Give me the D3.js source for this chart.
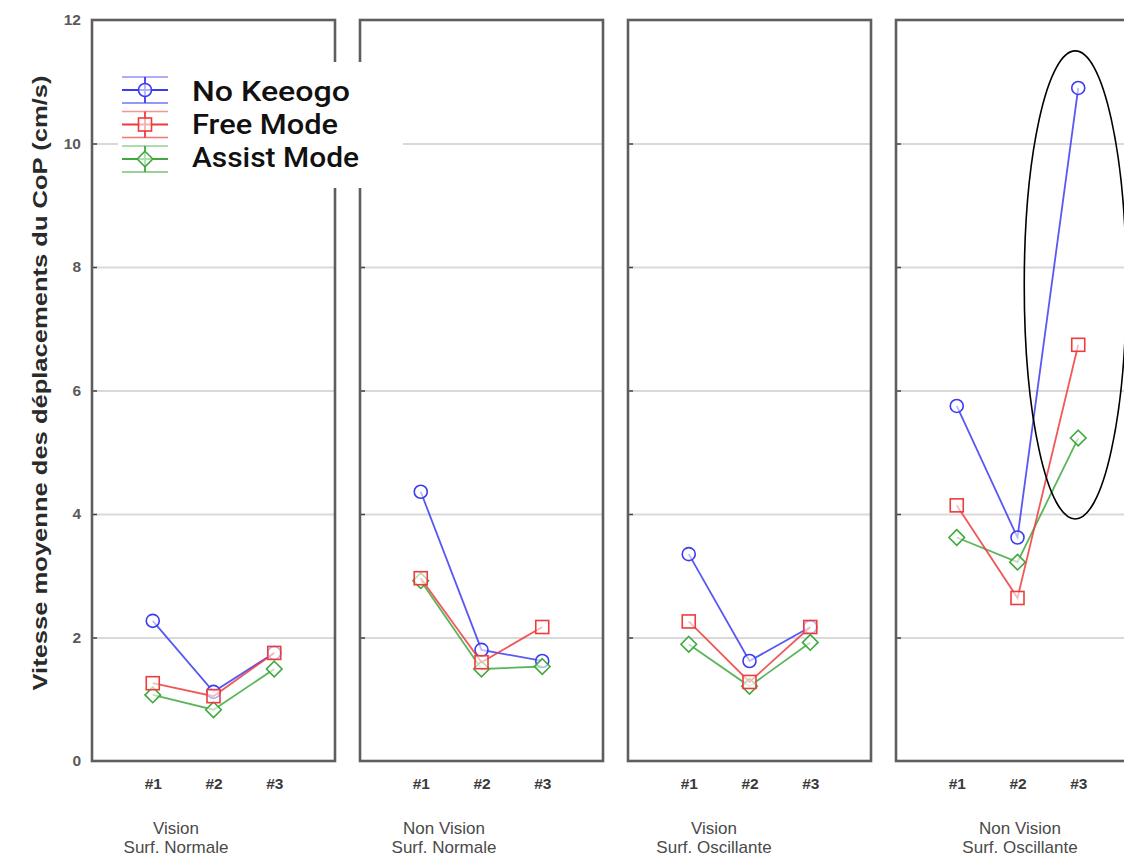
<!DOCTYPE html>
<html>
<head>
<meta charset="utf-8">
<script src="https://cdn.jsdelivr.net/npm/d3@7"></script>
<style>
  html, body { margin: 0; padding: 0; background: #fff; }
  svg { display: block; }
</style>
</head>
<body>
<svg id="chart" width="1124" height="861"></svg>
<script>
// Conditions (one panel each) and trial labels
const conditions = ["Vision|Surf. Normale", "Non Vision|Surf. Normale", "Vision|Surf. Oscillante", "Non Vision|Surf. Oscillante"];
const trials = ["#1", "#2", "#3"];
const yTicks = [0, 2, 4, 6, 8, 10, 12];

// Mean CoP speed (cm/s), one array per condition: [#1, #2, #3]
const noKeeogo   = [[2.27, 1.12, 1.75], [4.36, 1.80, 1.62], [3.35, 1.62, 2.17], [5.75, 3.62, 10.90]];
const freeMode   = [[1.26, 1.05, 1.75], [2.96, 1.60, 2.17], [2.26, 1.28, 2.17], [4.14, 2.64, 6.74]];
const assistMode = [[1.07, 0.83, 1.49], [2.92, 1.49, 1.53], [1.89, 1.21, 1.92], [3.62, 3.22, 5.23]];

const seriesNames  = ["No Keeogo", "Free Mode", "Assist Mode"];
const seriesColors = ["#3b3bf0", "#ee3b3b", "#3fa83f"];
const seriesShapes = ["circle", "square", "diamond"];
const seriesData   = [noKeeogo, freeMode, assistMode];

// horizontal anchor of each condition caption, measured from the panel's left edge
const captionOffset = [84, 84, 86, 124];
// rendered width of each legend entry
const legendWidths = [158, 146, 167];

const svg = d3.select("#chart");

// Scales
const y = d3.scaleLinear().domain([0, 12]).range([761, 20]);
const panel = d3.scaleBand().domain(conditions).range([92, 1139]).paddingInner(25 / 268).paddingOuter(0);
const bw = panel.bandwidth();
const xIn = d3.scalePoint().domain(trials).range([0, bw]).padding(1);

const labelFont = "Liberation Sans, Arial, sans-serif";

// Panels: grid, small ticks, frames
conditions.forEach((c, ci) => {
  const g = svg.append("g").attr("transform", `translate(${panel(c)},0)`);

  // horizontal grid lines
  g.append("g")
    .call(d3.axisLeft(y).tickValues(yTicks.filter(v => v > 0 && v < 12)).tickSize(-bw).tickFormat(""))
    .call(a => a.select(".domain").remove())
    .call(a => a.selectAll("line").attr("stroke", "#d9d9d9").attr("stroke-width", 2));

  // short dark ticks inside the left frame
  g.append("g")
    .call(d3.axisRight(y).tickValues(yTicks.filter(v => v > 0 && v < 12)).tickSize(5).tickFormat(""))
    .call(a => a.select(".domain").remove())
    .call(a => a.selectAll("line").attr("stroke", "#444").attr("stroke-width", 1.5));

  // frame
  g.append("rect")
    .attr("x", 0).attr("y", y(12)).attr("width", bw).attr("height", y(0) - y(12))
    .attr("fill", "none").attr("stroke", "#5e5e5e").attr("stroke-width", 2.6);

  // trial labels
  g.append("g")
    .attr("transform", `translate(0,${y(0)})`)
    .call(d3.axisBottom(xIn).tickSize(0).tickPadding(17))
    .call(a => a.select(".domain").remove())
    .call(a => a.selectAll("text")
      .attr("font-family", labelFont)
      .attr("font-size", 15.5).attr("font-weight", "bold").attr("fill", "#3a3a3a"));

  // condition captions
  const lines = c.split("|");
  lines.forEach((t, li) => {
    g.append("text")
      .attr("x", captionOffset[ci]).attr("y", 834 + li * 19)
      .attr("text-anchor", "middle")
      .attr("font-family", labelFont)
      .attr("font-size", 17).attr("fill", "#4a4a4a")
      .text(t);
  });
});

// Y axis labels on the left
svg.append("g")
  .attr("transform", `translate(81,0)`)
  .call(d3.axisLeft(y).tickValues(yTicks).tickSize(0).tickPadding(0))
  .call(a => a.select(".domain").remove())
  .call(a => a.selectAll("text")
    .attr("font-family", labelFont)
    .attr("font-size", 15.5).attr("font-weight", "bold").attr("fill", "#5a5a5a"));

svg.append("text")
  .attr("transform", `translate(47,383) rotate(-90)`)
  .attr("text-anchor", "middle")
  .attr("font-family", labelFont)
  .attr("font-size", 20.5).attr("font-weight", "bold").attr("fill", "#2a2a2a")
  .attr("textLength", 615).attr("lengthAdjust", "spacingAndGlyphs")
  .text("Vitesse moyenne des déplacements du CoP (cm/s)");

// Marker drawing helper
function marker(sel, shape, color, size) {
  if (shape === "circle") {
    sel.append("circle").attr("r", size).attr("fill", "rgba(255,255,255,0.6)")
      .attr("stroke", color).attr("stroke-width", 1.6);
  } else if (shape === "square") {
    sel.append("rect").attr("x", -size).attr("y", -size).attr("width", size * 2).attr("height", size * 2)
      .attr("fill", "rgba(255,255,255,0.6)").attr("stroke", color).attr("stroke-width", 1.6);
  } else {
    const s = size * 1.2;
    sel.append("path").attr("d", `M0,${-s}L${s},0L0,${s}L${-s},0Z`)
      .attr("fill", "rgba(255,255,255,0.6)").attr("stroke", color).attr("stroke-width", 1.6);
  }
}

// Series lines and markers
const line = d3.line().x(d => d[0]).y(d => d[1]);
[0, 2, 1].forEach(si => {
  conditions.forEach((c, ci) => {
    const vals = seriesData[si][ci];
    const pts = vals.map((v, ti) => [panel(c) + xIn(trials[ti]), y(v)]);
    svg.append("path").attr("d", line(pts))
      .attr("fill", "none").attr("stroke", seriesColors[si]).attr("stroke-width", 1.8).attr("opacity", 0.85);
    pts.forEach(p => {
      const m = svg.append("g").attr("transform", `translate(${p[0]},${p[1]})`);
      marker(m, seriesShapes[si], seriesColors[si], 6.5);
    });
  });
});

// Highlight ellipse around trial #3 in the last condition
const lastC = conditions[3];
svg.append("ellipse")
  .attr("cx", panel(lastC) + xIn("#3") - 3)
  .attr("cy", (y(11.5) + y(3.92)) / 2)
  .attr("rx", 51)
  .attr("ry", (y(3.92) - y(11.5)) / 2)
  .attr("fill", "none").attr("stroke", "#000").attr("stroke-width", 1.6);

// Legend
const lg = svg.append("g");
lg.append("rect").attr("x", 118).attr("y", 62).attr("width", 285).attr("height", 126).attr("fill", "#fff");
seriesNames.forEach((name, i) => {
  const cy = 90 + i * 34.5;
  const row = lg.append("g").attr("transform", `translate(145,${cy})`);
  const col = seriesColors[i];
  row.append("line").attr("x1", -23).attr("x2", 23).attr("y1", -13).attr("y2", -13)
    .attr("stroke", col).attr("stroke-width", 1.6).attr("opacity", 0.55);
  row.append("line").attr("x1", -23).attr("x2", 23).attr("y1", 13).attr("y2", 13)
    .attr("stroke", col).attr("stroke-width", 1.6).attr("opacity", 0.7);
  row.append("line").attr("x1", -23).attr("x2", 23).attr("y1", 0).attr("y2", 0)
    .attr("stroke", col).attr("stroke-width", 1.8);
  row.append("line").attr("x1", 0).attr("x2", 0).attr("y1", -13).attr("y2", 13)
    .attr("stroke", col).attr("stroke-width", 1.8);
  marker(row, seriesShapes[i], col, 6.5);
  lg.append("text")
    .attr("x", 192).attr("y", 101 + i * 33)
    .attr("font-family", "Roboto, Noto Sans, sans-serif")
    .attr("font-size", 27).attr("font-weight", 500).attr("fill", "#111")
    .attr("textLength", legendWidths[i]).attr("lengthAdjust", "spacingAndGlyphs")
    .text(name);
});
</script>
</body>
</html>
